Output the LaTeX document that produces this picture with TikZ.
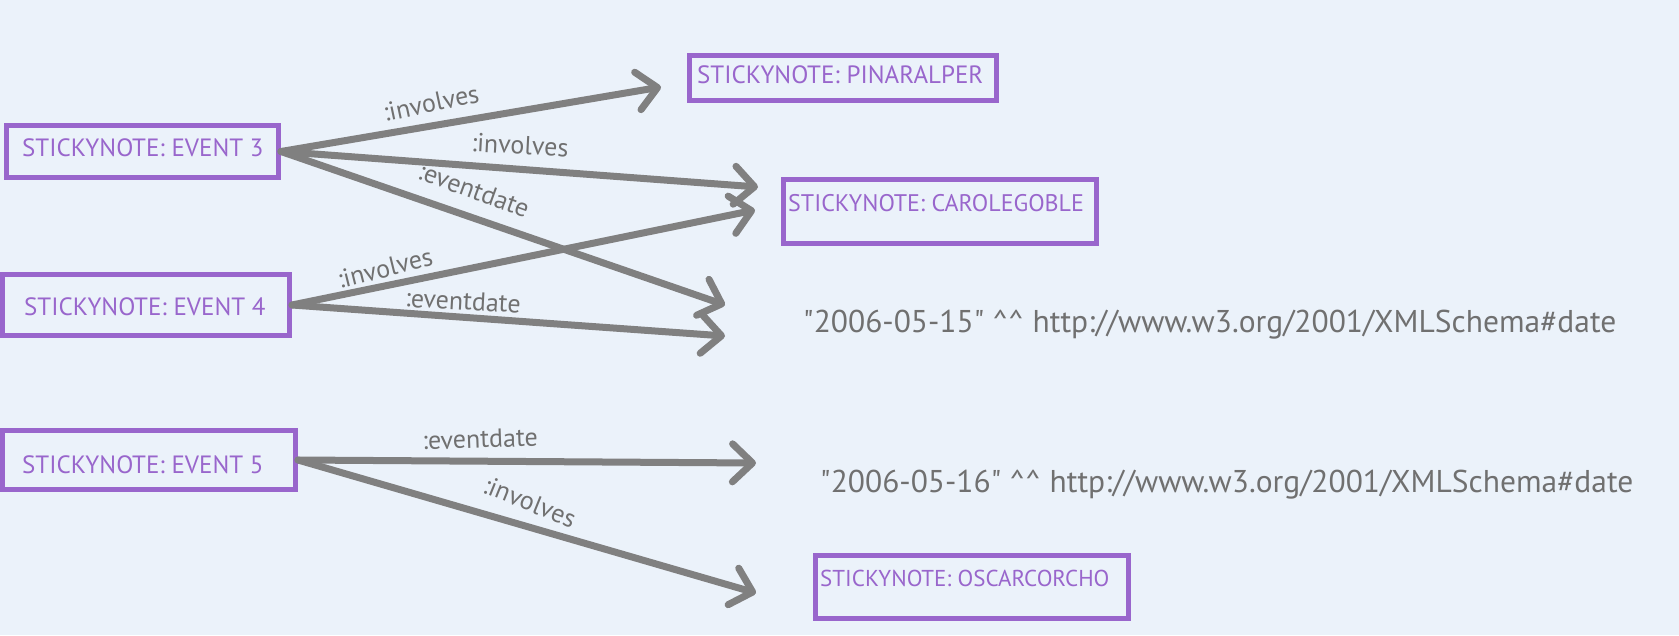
\documentclass[tikz,border=0pt]{standalone}
\usepackage{fontspec}
\setmainfont{PT Sans}
\usetikzlibrary{arrows.meta}
\definecolor{bg}{RGB}{235,242,250}
\definecolor{boxpurple}{RGB}{153,102,204}
\definecolor{linegray}{RGB}{128,128,128}
\definecolor{textgray}{RGB}{112,112,112}
\begin{document}
\begin{tikzpicture}[x=1pt,y=-1pt,
  sticky/.style={draw=boxpurple,line width=5pt,inner sep=0pt},
  stickytext/.style={text=boxpurple,anchor=west,inner sep=0pt,font=\fontsize{25}{28}\selectfont},
  conn/.style={draw=linegray,line width=7pt,line cap=round,-{Straight Barb[length=20pt,width=38pt,round]}},
  rel/.style={text=textgray,inner sep=0pt,font=\fontsize{26}{30}\selectfont},
  lit/.style={text=textgray,anchor=west,inner sep=0pt,font=\fontsize{31.5}{35}\selectfont}]
\fill[bg] (0,0) rectangle (1679,635);
\useasboundingbox (0,0) rectangle (1679,635);

% boxes
\node[sticky,minimum width=272pt,minimum height=52pt] (e3) at (142.5,151.5) {};
\node[sticky,minimum width=287pt,minimum height=61pt] (e4) at (146,305) {};
\node[sticky,minimum width=293pt,minimum height=59pt] (e5) at (149,460) {};
\node[sticky,minimum width=307pt,minimum height=45pt] (pinar) at (843,78) {};
\node[sticky,minimum width=313pt,minimum height=64pt] (carole) at (940,211.5) {};
\node[sticky,minimum width=313pt,minimum height=63pt] (oscar) at (972,587) {};

% box texts
\node[stickytext] (e3t) at (22,148) {STICKYNOTE: EVENT 3};
\node[stickytext] (e4t) at (24,307) {STICKYNOTE: EVENT 4};
\node[stickytext] (e5t) at (22,465) {STICKYNOTE: EVENT 5};
\node[stickytext] (pinart) at (697,75) {STICKYNOTE: PINARALPER};
\node[stickytext,font=\fontsize{24}{27}\selectfont] (carolet) at (788,203) {STICKYNOTE: CAROLEGOBLE};
\node[stickytext,font=\fontsize{23}{26}\selectfont] (oscart) at (820,578) {STICKYNOTE: OSCARCORCHO};

% literals
\node[lit] (d1) at (803,325) {\textquotedbl 2006-05-15\textquotedbl{} \textasciicircum\textasciicircum{} http://www.w3.org/2001/XMLSchema\#date};
\node[lit] (d2) at (820,485) {\textquotedbl 2006-05-16\textquotedbl{} \textasciicircum\textasciicircum{} http://www.w3.org/2001/XMLSchema\#date};

% arrow tips
\coordinate (t1) at (661,87);
\coordinate (t2) at (758,187);
\coordinate (t3) at (725,305);
\coordinate (t4) at (755,210);
\coordinate (t5) at (725,336);
\coordinate (t6) at (756,463);
\coordinate (t7) at (756,593);

% connectors
\draw[conn] (e3.east) -- (t1);
\draw[conn] (e3.east) -- (t2);
\draw[conn] (e3.east) -- (t3);
\draw[conn] (e4.east) -- (t4);
\draw[conn] (e4.east) -- (t5);
\draw[conn] (e5.east) -- (t6);
\draw[conn] (e5.east) -- (t7);

% relation labels
\node[rel,rotate=12] (l1) at (431,103) {:involves};
\node[rel,rotate=-3] (l2) at (520,145) {:involves};
\node[rel,rotate=-20] (l3) at (474,190) {:eventdate};
\node[rel,rotate=14] (l4) at (385,268) {:involves};
\node[rel,rotate=-3] (l5) at (463,301) {:eventdate};
\node[rel,rotate=2] (l6) at (480,439) {:eventdate};
\node[rel,rotate=-22] (l7) at (530,502) {:involves};
\end{tikzpicture}
\end{document}
